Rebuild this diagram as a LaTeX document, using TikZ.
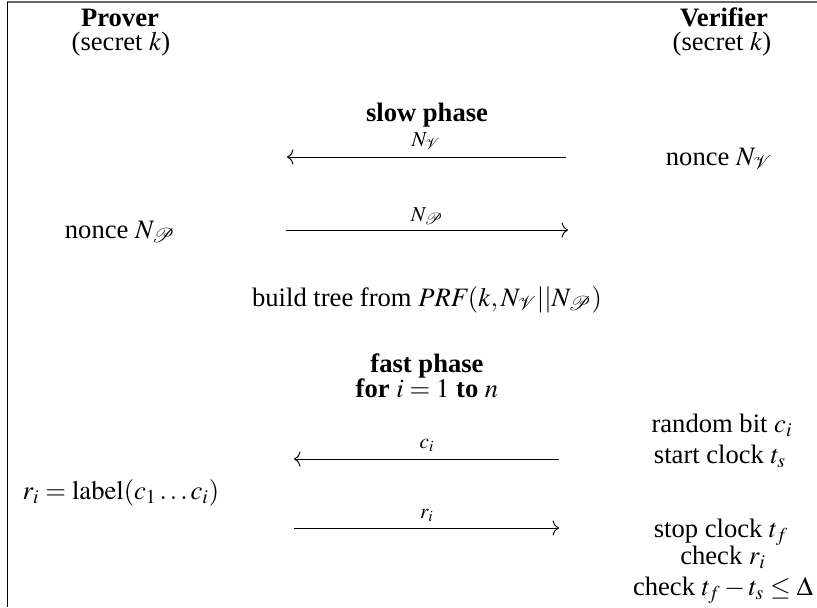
\documentclass[tikz,border=0pt]{standalone}
\usepackage{amsmath}
\usepackage{mathptmx}
\usepackage{mathrsfs}
\usepackage[no-math]{fontspec}
\setmainfont{Liberation Serif}
\usetikzlibrary{arrows.meta}
\begin{document}
\begin{tikzpicture}[x=0.5pt,y=-0.5pt,
  txt/.style={anchor=base, inner sep=0pt, font=\fontsize{13.3}{16}\selectfont},
  head/.style={txt, font=\fontsize{13.3}{16}\selectfont\bfseries},
  lbl/.style={anchor=base, inner sep=0pt, font=\fontsize{10.6}{12}\selectfont},
  msg/.style={-{To[length=3.2pt,width=7.5pt]}, line width=0.5pt}]
\useasboundingbox (0,0) rectangle (817,607);

% frame
\coordinate (fTL) at (7,2);
\coordinate (fTR) at (817,2);
\coordinate (fBL) at (7,607);
\draw[line width=0.6pt, black!60] (fTL) -- (fTR);
\draw[line width=0.5pt] (fTL) -- (fBL);

% parties
\node[head] (prover) at (120,26) {Prover};
\node[txt] (psecret) at (121,50) {(secret $k$)};
\node[head] (verifier) at (724,26) {Verifier};
\node[txt] (vsecret) at (722,50) {(secret $k$)};

% slow phase
\node[head] (slow) at (427,121) {slow phase};
\node[txt] (vnonce) at (719,165) {nonce $N_{\mathscr{V}}$};
\coordinate (m1s) at (566,157);
\coordinate (m1e) at (287,157);
\draw[msg] (m1s) -- (m1e);
\node[lbl] (m1l) at (426,146) {$N_{\mathscr{V}}$};

\node[txt] (pnonce) at (120,238) {nonce $N_{\mathscr{P}}$};
\coordinate (m2s) at (286,230);
\coordinate (m2e) at (568,230);
\draw[msg] (m2s) -- (m2e);
\node[lbl] (m2l) at (427,221) {$N_{\mathscr{P}}$};

\node[txt] (tree) at (427,306) {build tree from $\mathit{PRF}(k,N_{\mathscr{V}}||N_{\mathscr{P}})$};

% fast phase
\node[head] (fast) at (427,372) {fast phase};
\node[txt] (loop) at (427,397) {\textbf{for} $i=1$ \textbf{to} $n$};

\node[txt] (rbit) at (722,432) {random bit $c_i$};
\node[txt] (tstart) at (720,463) {start clock $t_s$};
\coordinate (m3s) at (559,459);
\coordinate (m3e) at (294,459);
\draw[msg] (m3s) -- (m3e);
\node[lbl] (m3l) at (427,448) {$c_i$};

\node[txt] (resp) at (121,499) {$r_i=\mathrm{label}(c_1\ldots c_i)$};
\coordinate (m4s) at (294,528);
\coordinate (m4e) at (559,528);
\draw[msg] (m4s) -- (m4e);
\node[lbl] (m4l) at (427,518) {$r_i$};

\node[txt] (tstop) at (721,537) {stop clock $t_f$};
\node[txt] (chk1) at (723,564) {check $r_i$};
\node[txt] (chk2) at (723,595) {check $t_f-t_s\leq\Delta$};
\end{tikzpicture}
\end{document}
